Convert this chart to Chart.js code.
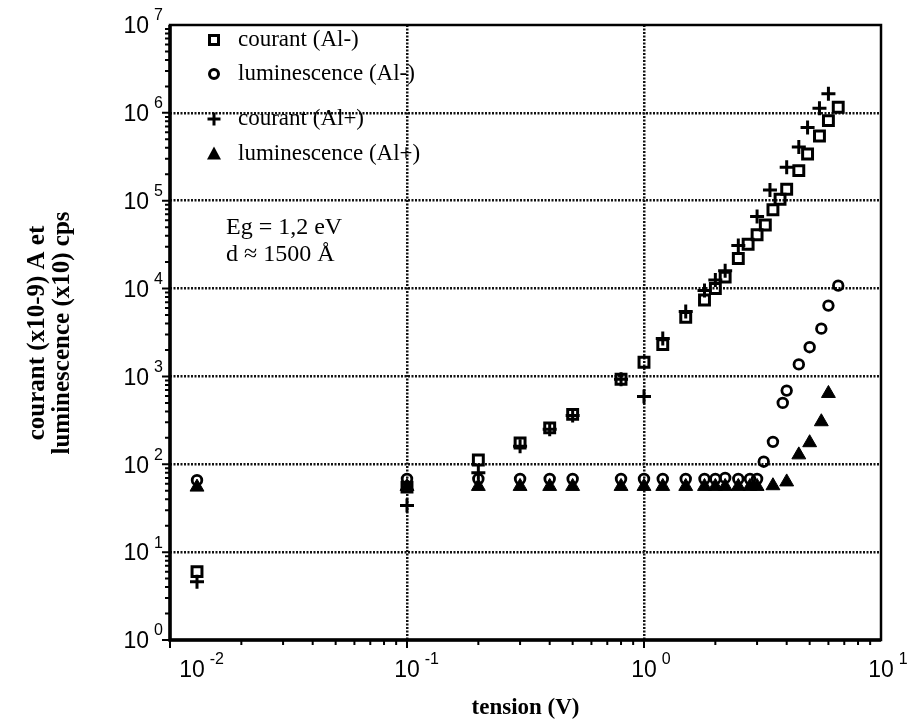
<!DOCTYPE html>
<html>
<head>
<meta charset="utf-8">
<script src="https://cdn.jsdelivr.net/npm/chart.js@4.4.0/dist/chart.umd.min.js"></script>
<style>
  html, body { margin: 0; padding: 0; background: #fff; }
</style>
</head>
<body>
<canvas id="myChart" width="913" height="727"></canvas>
<script>
// tension (V) / courant (Al-), open squares
const courantMoinsX = [0.013, 0.1, 0.2, 0.3, 0.4, 0.5, 0.8, 1.0, 1.2, 1.5, 1.8, 2.0, 2.2, 2.5, 2.75, 3.0, 3.25, 3.5, 3.75, 4.0, 4.5, 4.9, 5.5, 6.0, 6.6];
const courantMoinsY = [6.0, 55, 112, 175, 260, 370, 930, 1450, 2300, 4700, 7400, 10000, 13500, 22000, 32000, 41000, 53000, 79000, 104000, 135000, 220000, 340000, 545000, 815000, 1160000];

// luminescence (Al-), open circles
const lumMoinsX = [0.013, 0.1, 0.2, 0.3, 0.4, 0.5, 0.8, 1.0, 1.2, 1.5, 1.8, 2.0, 2.2, 2.5, 2.8, 3.0, 3.2, 3.5, 3.85, 4.0, 4.5, 5.0, 5.6, 6.0, 6.6];
const lumMoinsY = [66, 68, 68, 68, 68, 68, 68, 68, 68, 68, 68, 68, 70, 68, 68, 68, 107, 180, 500, 690, 1370, 2150, 3500, 6400, 10800];

// courant (Al+), crosses
const courantPlusX = [0.013, 0.1, 0.2, 0.3, 0.4, 0.5, 0.8, 1.0, 1.2, 1.5, 1.8, 2.0, 2.2, 2.5, 3.0, 3.4, 4.0, 4.5, 4.9, 5.5, 6.0];
const courantPlusY = [4.6, 34, 80, 160, 250, 360, 930, 590, 2700, 5500, 9500, 12500, 16000, 31000, 66000, 132000, 240000, 410000, 680000, 1130000, 1650000];

// luminescence (Al+), filled triangles
const lumPlusX = [0.013, 0.1, 0.2, 0.3, 0.4, 0.5, 0.8, 1.0, 1.2, 1.5, 1.8, 2.0, 2.2, 2.5, 2.8, 3.0, 3.5, 4.0, 4.5, 5.0, 5.6, 6.0];
const lumPlusY = [55, 56, 56, 56, 56, 56, 56, 56, 56, 56, 56, 56, 56, 56, 56, 56, 57, 63, 128, 176, 305, 640];

const xExponents = [-2, -1, 0, 1];
const yExponents = [0, 1, 2, 3, 4, 5, 6, 7];

const legendLabels = ['courant (Al-)', 'luminescence (Al-)', 'courant (Al+)', 'luminescence (Al+)'];
const noteLines = ['Eg = 1,2 eV', 'd \u2248 1500 \u00c5'];
const xTitle = 'tension (V)';
const yTitleLines = ['courant (x10-9) A et', 'luminescence (x10) cps'];

function toPoints(xs, ys) {
    return xs.map((v, i) => ({ x: v, y: ys[i] }));
}

function decadeTicks(exps) {
    return exps.map(e => ({ value: Math.pow(10, e) }));
}

function isEdge(value, exps) {
    const e = Math.round(Math.log10(value));
    return e === exps[0] || e === exps[exps.length - 1];
}

const SERIF = '"Liberation Serif", "Times New Roman", serif';
const SANS = '"Liberation Sans", Arial, sans-serif';

function drawMarker(ctx, kind, cx, cy) {
    ctx.save();
    ctx.strokeStyle = '#000';
    ctx.fillStyle = '#000';
    ctx.lineWidth = 3;
    ctx.beginPath();
    if (kind === 'rect') {
        ctx.rect(cx - 4.5, cy - 4.5, 9, 9);
        ctx.stroke();
    } else if (kind === 'circle') {
        ctx.arc(cx, cy, 4.5, 0, Math.PI * 2);
        ctx.stroke();
    } else if (kind === 'cross') {
        ctx.moveTo(cx - 6.5, cy); ctx.lineTo(cx + 6.5, cy);
        ctx.moveTo(cx, cy - 6.5); ctx.lineTo(cx, cy + 6.5);
        ctx.stroke();
    } else {
        ctx.moveTo(cx, cy - 7.5); ctx.lineTo(cx + 7, cy + 5.5); ctx.lineTo(cx - 7, cy + 5.5);
        ctx.closePath();
        ctx.fill();
    }
    ctx.restore();
}

// decorations: frame, log ticks, power-of-ten labels, titles, legend
const decorPlugin = {
    id: 'decor',
    afterDraw(chart) {
        const { ctx, chartArea: a } = chart;
        const xs = chart.scales.x, ys = chart.scales.y;
        ctx.save();
        ctx.strokeStyle = '#000';
        ctx.fillStyle = '#000';

        // frame
        ctx.lineWidth = 2.5;
        ctx.strokeRect(a.left, a.top, a.right - a.left, a.bottom - a.top);
        ctx.lineWidth = 3.5;
        ctx.beginPath();
        ctx.moveTo(a.left, a.top);
        ctx.lineTo(a.left, a.bottom);
        ctx.lineTo(a.right, a.bottom);
        ctx.stroke();

        // log ticks
        ctx.lineWidth = 2;
        ctx.beginPath();
        for (let k = yExponents[0]; k < yExponents[yExponents.length - 1]; k++) {
            for (let m = 1; m <= 9; m++) {
                const py = ys.getPixelForValue(m * Math.pow(10, k));
                const len = m === 1 ? 8 : 5;
                ctx.moveTo(a.left - len, py);
                ctx.lineTo(a.left, py);
            }
        }
        for (let k = xExponents[0]; k < xExponents[xExponents.length - 1]; k++) {
            for (let m = 1; m <= 9; m++) {
                const px = xs.getPixelForValue(m * Math.pow(10, k));
                const len = m === 1 ? 8 : 5;
                ctx.moveTo(px, a.bottom);
                ctx.lineTo(px, a.bottom + len);
            }
        }
        ctx.stroke();

        // y tick labels
        ctx.textBaseline = 'middle';
        yExponents.forEach(e => {
            const py = ys.getPixelForValue(Math.pow(10, e));
            ctx.font = '16px ' + SANS;
            ctx.textAlign = 'right';
            const expText = String(e);
            const ew = ctx.measureText(expText).width;
            ctx.fillText(expText, a.left - 7, py - 9);
            ctx.font = '23px ' + SANS;
            ctx.fillText('10', a.left - 12 - ew, py + 2);
        });

        // x tick labels (first one nudged right, clear of the y labels)
        xExponents.forEach((e, i) => {
            const px = xs.getPixelForValue(Math.pow(10, e)) + (i === 0 ? 22 : 0);
            ctx.font = '23px ' + SANS;
            ctx.textAlign = 'center';
            const w10 = ctx.measureText('10').width;
            ctx.fillText('10', px, a.bottom + 31);
            ctx.font = '16px ' + SANS;
            ctx.textAlign = 'left';
            ctx.fillText(String(e), px + w10 / 2 + 5, a.bottom + 20);
        });

        // axis titles
        ctx.font = 'bold 23px ' + SERIF;
        ctx.textAlign = 'center';
        ctx.fillText(xTitle, (a.left + a.right) / 2, 708);
        ctx.save();
        ctx.translate(0, 333);
        ctx.rotate(-Math.PI / 2);
        ctx.font = 'bold 25px ' + SERIF;
        ctx.fillText(yTitleLines[0], 0, 38);
        ctx.fillText(yTitleLines[1], 0, 63);
        ctx.restore();

        // legend
        const kinds = ['rect', 'circle', 'cross', 'triangle'];
        const rows = [40, 74, 119, 154];
        ctx.font = '23px ' + SERIF;
        ctx.textAlign = 'left';
        legendLabels.forEach((lab, i) => {
            drawMarker(ctx, kinds[i], 214, rows[i]);
            ctx.fillText(lab, 238, rows[i]);
        });

        // note
        ctx.font = '24px ' + SERIF;
        ctx.fillText(noteLines[0], 226, 228);
        ctx.fillText(noteLines[1], 226, 255);

        ctx.restore();
    }
};

function initChart() {
    const ctx = document.getElementById('myChart').getContext('2d');
    const black = '#000';
    new Chart(ctx, {
        type: 'scatter',
        data: {
            datasets: [{
                label: legendLabels[0],
                data: toPoints(courantMoinsX, courantMoinsY),
                pointStyle: 'rect',
                pointRadius: 7,
                borderColor: black,
                backgroundColor: 'rgba(0,0,0,0)',
                borderWidth: 3
            }, {
                label: legendLabels[1],
                data: toPoints(lumMoinsX, lumMoinsY),
                pointStyle: 'circle',
                pointRadius: 4.8,
                borderColor: black,
                backgroundColor: 'rgba(0,0,0,0)',
                borderWidth: 2.8
            }, {
                label: legendLabels[2],
                data: toPoints(courantPlusX, courantPlusY),
                pointStyle: 'cross',
                pointRadius: 7,
                borderColor: black,
                backgroundColor: black,
                borderWidth: 3
            }, {
                label: legendLabels[3],
                data: toPoints(lumPlusX, lumPlusY),
                pointStyle: 'triangle',
                pointRadius: 8,
                borderColor: black,
                backgroundColor: black,
                borderWidth: 1
            }]
        },
        options: {
            responsive: false,
            animation: false,
            events: [],
            layout: {
                padding: { left: 170, right: 32, top: 25, bottom: 87 }
            },
            plugins: {
                legend: { display: false },
                tooltip: { enabled: false }
            },
            scales: {
                x: {
                    type: 'logarithmic',
                    min: 0.01,
                    max: 10,
                    afterBuildTicks: s => { s.ticks = decadeTicks(xExponents); },
                    ticks: { display: false },
                    border: { display: false, dash: [2, 1.5] },
                    grid: {
                        drawTicks: false,
                        lineWidth: 2.5,
                        color: c => (c.tick && !isEdge(c.tick.value, xExponents)) ? '#111' : 'rgba(0,0,0,0)'
                    }
                },
                y: {
                    type: 'logarithmic',
                    min: 1,
                    max: 1e7,
                    afterBuildTicks: s => { s.ticks = decadeTicks(yExponents); },
                    ticks: { display: false },
                    border: { display: false, dash: [2, 1.5] },
                    grid: {
                        drawTicks: false,
                        lineWidth: 2.5,
                        color: c => (c.tick && !isEdge(c.tick.value, yExponents)) ? '#111' : 'rgba(0,0,0,0)'
                    }
                }
            }
        },
        plugins: [decorPlugin]
    });
}

initChart();
</script>
</body>
</html>
